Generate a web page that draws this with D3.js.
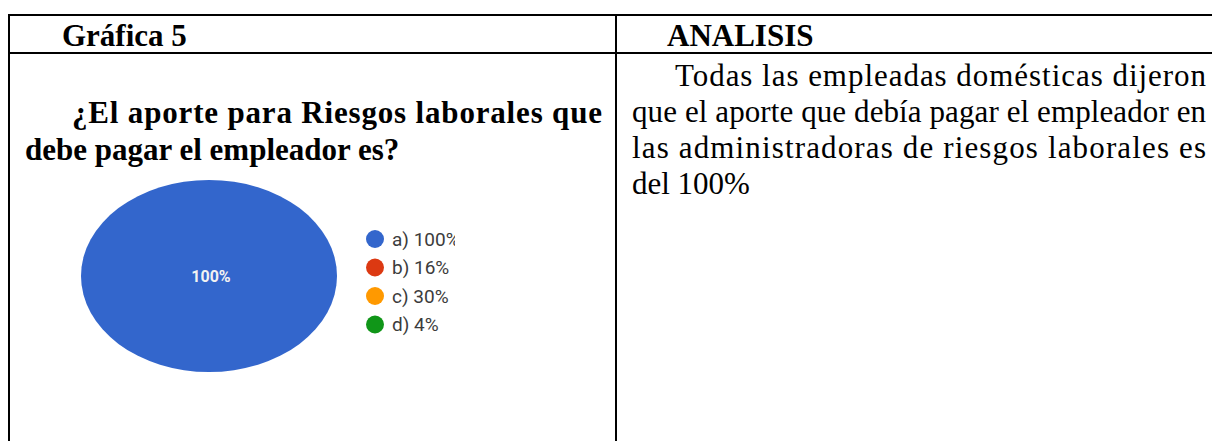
<!DOCTYPE html>
<html>
<head>
<meta charset="utf-8">
<script src="https://cdn.jsdelivr.net/npm/d3@7"></script>
<style>
  html, body { margin: 0; padding: 0; background: #fff; }
  svg { display: block; }
</style>
</head>
<body>
<svg id="chart" width="1212" height="441"></svg>
<script>
// ---- data ----
const categories = ["a) 100%", "b) 16%", "c) 30%", "d) 4%"];
const values = [100, 0, 0, 0];
const colors = ["#3366cc", "#dc3912", "#ff9900", "#109618"];
const headerLeft = "Gráfica 5";
const headerRight = "ANALISIS";
const questionLines = ["¿El aporte para Riesgos laborales que", "debe pagar el empleador es?"];
const analysisLines = [
  "Todas las empleadas domésticas dijeron",
  "que el aporte que debía pagar el empleador en",
  "las administradoras de riesgos laborales es",
  "del 100%"
];

const svg = d3.select("#chart");
const serif = "'Liberation Serif', 'Times New Roman', serif";

// ---- table lines ----
const g = svg.append("g").attr("stroke", "#000").attr("stroke-width", 2);
g.append("line").attr("x1", 8).attr("x2", 1212).attr("y1", 15).attr("y2", 15);
g.append("line").attr("x1", 8).attr("x2", 1212).attr("y1", 53).attr("y2", 53);
g.append("line").attr("x1", 9).attr("x2", 9).attr("y1", 14).attr("y2", 441);
g.append("line").attr("x1", 616).attr("x2", 616).attr("y1", 14).attr("y2", 441);

// ---- headers ----
svg.append("text").attr("x", 62).attr("y", 46)
  .attr("font-family", serif).attr("font-weight", "bold").attr("font-size", 31)
  .text(headerLeft);
svg.append("text").attr("x", 667).attr("y", 46)
  .attr("font-family", serif).attr("font-weight", "bold").attr("font-size", 31)
  .text(headerRight);

// ---- question ----
const qPos = [{x: 72, y: 123, w: 530}, {x: 25, y: 160, w: null}];
questionLines.forEach((t, i) => {
  const el = svg.append("text").attr("x", qPos[i].x).attr("y", qPos[i].y)
    .attr("font-family", serif).attr("font-weight", "bold").attr("font-size", 31)
    .text(t);
  if (qPos[i].w) el.attr("textLength", qPos[i].w).attr("lengthAdjust", "spacing");
});

// ---- analysis ----
const aPos = [{x: 675, y: 86, w: 531}, {x: 632, y: 122, w: 574}, {x: 632, y: 158, w: 574}, {x: 632, y: 194, w: null}];
analysisLines.forEach((t, i) => {
  const el = svg.append("text").attr("x", aPos[i].x).attr("y", aPos[i].y)
    .attr("font-family", serif).attr("font-size", 31)
    .text(t);
  if (aPos[i].w) el.attr("textLength", aPos[i].w).attr("lengthAdjust", "spacing");
});

// ---- pie (elliptical) ----
const cx = 209, cy = 276, rx = 128, ry = 96;
const pie = d3.pie().sort(null).value(d => d)(values);
const arc = d3.arc().innerRadius(0).outerRadius(rx);
const pg = svg.append("g").attr("transform", `translate(${cx},${cy}) scale(1,${ry / rx})`);
pg.selectAll("path").data(pie).join("path")
  .attr("d", arc)
  .attr("fill", (d, i) => colors[i]);

const total = d3.sum(values);
pie.forEach((d, i) => {
  if (d.value > 0) {
    const frac = d.value / total;
    const c = frac >= 1 ? [0, 0] : arc.centroid(d);
    svg.append("text")
      .attr("x", cx + 2 + c[0]).attr("y", cy + c[1] * ry / rx)
      .attr("text-anchor", "middle").attr("dy", "0.35em")
      .attr("font-family", "Roboto, Arial, sans-serif").attr("font-weight", "bold")
      .attr("font-size", 16).attr("fill", "#f2f2f2")
      .text(d3.format(".0%")(frac));
  }
});

// ---- legend ----
svg.append("clipPath").attr("id", "legclip")
  .append("rect").attr("x", 360).attr("y", 220).attr("width", 95).attr("height", 130);
const legY = d3.scalePoint().domain(categories).range([239, 324.5]);
const leg = svg.append("g").attr("clip-path", "url(#legclip)");
const items = leg.selectAll("g").data(categories).join("g")
  .attr("transform", d => `translate(375,${legY(d)})`);
items.append("circle").attr("r", 9).attr("fill", (d, i) => colors[i]);
items.append("text").attr("x", 17).attr("dy", "0.36em")
  .attr("font-family", "Roboto, Arial, sans-serif").attr("font-size", 19)
  .attr("fill", "#3c3c3c")
  .text(d => d);
</script>
</body>
</html>
